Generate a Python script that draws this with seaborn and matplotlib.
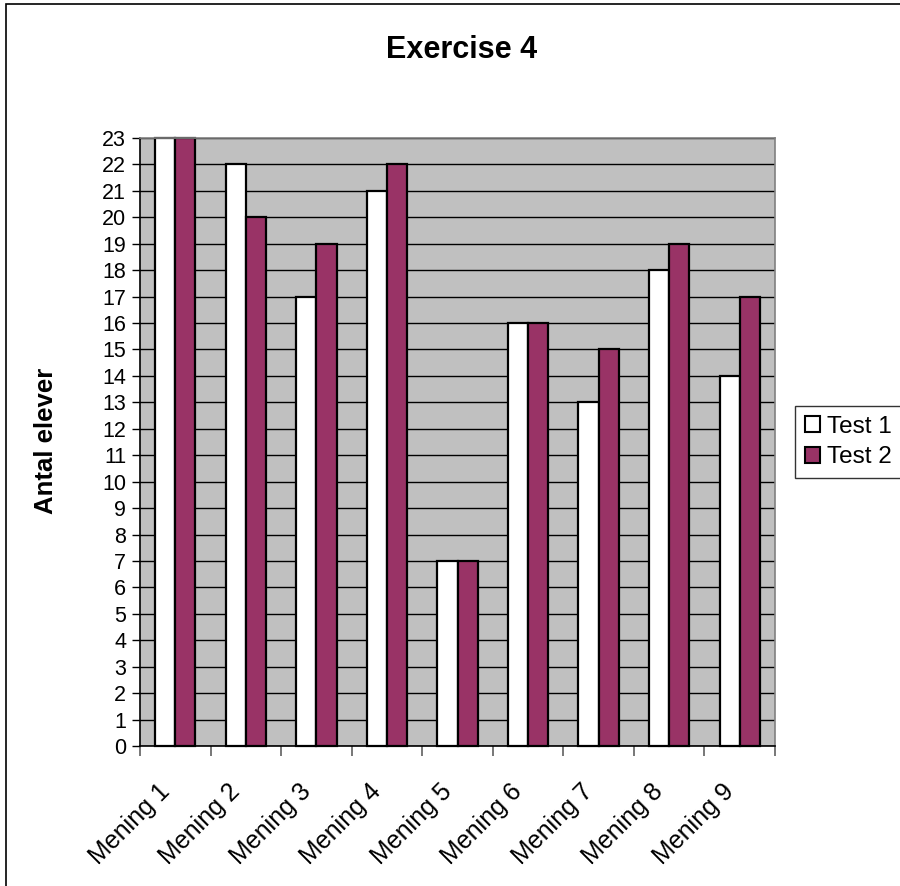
import matplotlib
matplotlib.use("Agg")
import matplotlib.pyplot as plt
from matplotlib.patches import Rectangle
from matplotlib.transforms import ScaledTranslation
import seaborn as sns
import pandas as pd

categories = ["Mening 1", "Mening 2", "Mening 3", "Mening 4", "Mening 5",
              "Mening 6", "Mening 7", "Mening 8", "Mening 9"]
test1 = [23, 22, 17, 21, 7, 16, 13, 18, 14]
test2 = [23, 20, 19, 22, 7, 16, 15, 19, 17]
series_names = ["Test 1", "Test 2"]
y_ticks = list(range(0, 24))

df = pd.DataFrame({
    "Mening": categories * 2,
    "Antal": test1 + test2,
    "Test": [series_names[0]] * len(categories) + [series_names[1]] * len(categories),
})

sns.set_theme(style="white")
plt.rcParams["font.family"] = ["Liberation Sans", "DejaVu Sans"]
plt.rcParams["text.color"] = "black"
plt.rcParams["axes.labelcolor"] = "black"
plt.rcParams["xtick.color"] = "black"
plt.rcParams["ytick.color"] = "black"

fig = plt.figure(figsize=(9, 8.86), dpi=100)
ax = fig.add_axes([140 / 900, 1 - 746 / 886, 635 / 900, 608 / 886])

palette = {"Test 1": "#FFFFFF", "Test 2": "#993366"}
sns.barplot(data=df, x="Mening", y="Antal", hue="Test", order=categories,
            hue_order=series_names, palette=palette, width=0.572, gap=0,
            edgecolor="black", linewidth=1.6, saturation=1, ax=ax, legend=True)
for bar in ax.patches:
    bar.set_clip_on(False)

ax.set_facecolor("#C0C0C0")
ax.set_xlim(-0.5, len(categories) - 0.5)
ax.set_ylim(0, 23)
ax.set_yticks(y_ticks)
ax.yaxis.grid(True, color="black", linewidth=1)
ax.xaxis.grid(False)
ax.set_axisbelow(True)

ax.tick_params(axis="y", which="major", direction="out", length=6, width=1,
               color="black", labelsize=15.5, pad=4, left=True)
ax.set_xticks(range(len(categories)))
ax.set_xticklabels(categories, rotation=45, ha="right", va="top",
                   rotation_mode="anchor", fontsize=18)
ax.tick_params(axis="x", which="major", length=0, pad=24)
shift = ScaledTranslation(-18 / 100, 0, fig.dpi_scale_trans)
for lbl in ax.get_xticklabels():
    lbl.set_transform(lbl.get_transform() + shift)
ax.set_xticks([i - 0.5 for i in range(len(categories) + 1)], minor=True)
ax.tick_params(axis="x", which="minor", direction="out", length=7, width=1.2,
               color="#606060", bottom=True)

for side in ["left", "bottom"]:
    ax.spines[side].set_color("black")
    ax.spines[side].set_linewidth(1.2)
for side in ["top", "right"]:
    ax.spines[side].set_color("#808080")
    ax.spines[side].set_linewidth(1.2)

ax.set_xlabel("")
ax.set_ylabel("Antal elever", fontsize=18.5, fontweight="bold")
ax.yaxis.set_label_coords((58 - 140) / 635, 0.502)

ax.legend_.remove()
handles = [Rectangle((0, 0), 1, 1, facecolor=palette[n], edgecolor="black", linewidth=1.5)
           for n in series_names]
leg = fig.legend(handles, series_names, loc="center left",
                 bbox_to_anchor=(795 / 900, 1 - 442 / 886), fontsize=17.5,
                 frameon=True, fancybox=False, borderpad=0.4, handlelength=0.62,
                 handleheight=0.62, handletextpad=0.3, labelspacing=0.35,
                 borderaxespad=0)
leg.get_frame().set_edgecolor("black")
leg.get_frame().set_linewidth(1)

fig.text(462 / 900, 1 - 50 / 886, "Exercise 4", ha="center", va="center",
         fontsize=22, fontweight="bold")

fig.patches.append(Rectangle((6 / 900, -0.1), 1.2, 1.1 - 4 / 886,
                             transform=fig.transFigure, fill=False,
                             edgecolor="black", linewidth=1.2))

fig.savefig("out.png", dpi=100)
